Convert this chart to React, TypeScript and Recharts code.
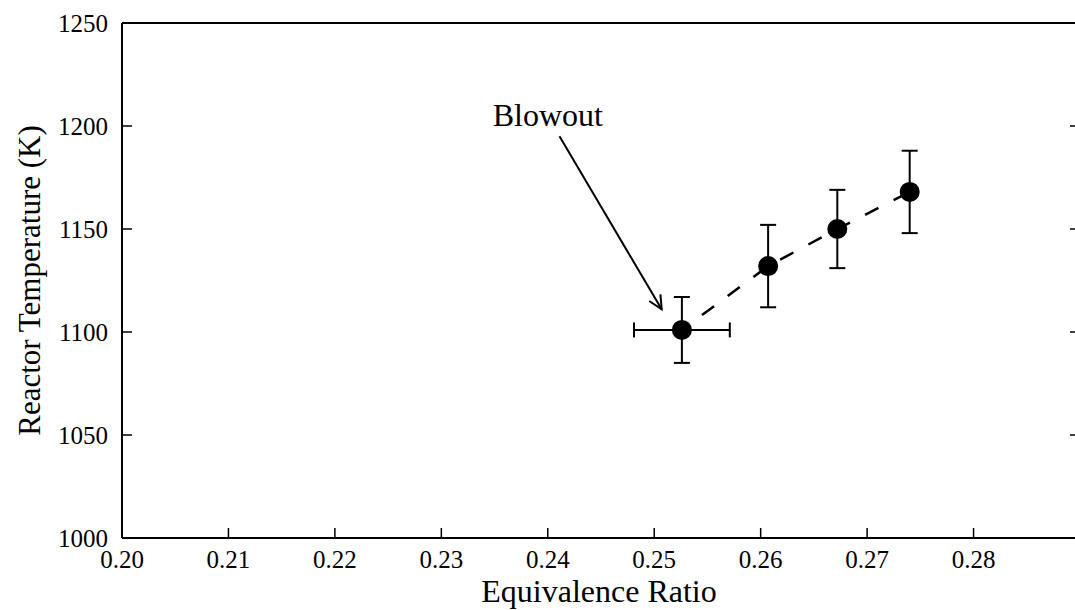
import { ScatterChart, Scatter, XAxis, YAxis, ErrorBar, ReferenceLine, ReferenceDot } from 'recharts';

// equivalence ratio vs reactor temperature
const phi = [0.2526, 0.2607, 0.2672, 0.274];
const temperature = [1101, 1132, 1150, 1168];
const tempErr = [16, 20, 19, 20];
const phiErr = [0.0045, 0, 0, 0];

const xTicks = [0.2, 0.21, 0.22, 0.23, 0.24, 0.25, 0.26, 0.27, 0.28];
const yTicks = [1000, 1050, 1100, 1150, 1200, 1250];

const blowoutText = { x: 0.24, y: 1205 };
const arrowFrom = { x: 0.2411, y: 1195 };
const arrowTo = { x: 0.2507, y: 1111 };

const points = phi.map((x, i) => ({ x, y: temperature[i], ey: tempErr[i], ex: phiErr[i] }));

const FONT = 'Liberation Serif, Times New Roman, serif';
const tickStyle = { fill: '#000', fontSize: 25, fontFamily: FONT };

const Dot = (props: any) => <circle cx={props.cx} cy={props.cy} r={10} fill="#000" />;

const Arrow = (props: any) => {
  const { x1, y1, x2, y2 } = props;
  const a = Math.atan2(y2 - y1, x2 - x1);
  const len = 15;
  const spread = 0.45;
  const p1 = [x2 - len * Math.cos(a - spread), y2 - len * Math.sin(a - spread)];
  const p2 = [x2 - len * Math.cos(a + spread), y2 - len * Math.sin(a + spread)];
  return (
    <g>
      <line x1={x1} y1={y1} x2={x2} y2={y2} stroke="#000" strokeWidth={2} />
      <polyline points={`${p1[0]},${p1[1]} ${x2},${y2} ${p2[0]},${p2[1]}`} fill="none" stroke="#000" strokeWidth={2} />
    </g>
  );
};

const YTitle = (props: any) => {
  const vb = props.viewBox;
  const cy = vb.y + vb.height / 2;
  return (
    <text x={40} y={cy} transform={`rotate(-90, 40, ${cy})`} textAnchor="middle" fontSize={31} fontFamily={FONT} fill="#000">
      Reactor Temperature (K)
    </text>
  );
};

const XTitle = (props: any) => {
  const vb = props.viewBox;
  return (
    <text x={vb.x + vb.width / 2 - 2} y={602} textAnchor="middle" fontSize={32} fontFamily={FONT} fill="#000">
      Equivalence Ratio
    </text>
  );
};

const BlowoutLabel = (props: any) => {
  const vb = props.viewBox;
  return (
    <text x={vb.x} y={vb.y + 10} textAnchor="middle" fontSize={32} fontFamily={FONT} fill="#000">
      Blowout
    </text>
  );
};

export default function App() {
  return (
    <div style={{ position: 'absolute', left: 0, top: 0, width: 1075, height: 610, overflow: 'hidden', background: '#fff', fontFamily: FONT }}>
      <ScatterChart width={1090} height={610} margin={{ top: 0, right: 0, bottom: 0, left: 0 }}>
        <XAxis
          dataKey="x"
          type="number"
          domain={[0.2, 0.29]}
          ticks={xTicks}
          allowDataOverflow
          height={72}
          tickSize={-10}
          tickMargin={22}
          tick={tickStyle}
          tickFormatter={(v: number) => v.toFixed(2)}
          axisLine={{ stroke: '#000', strokeWidth: 2 }}
          tickLine={{ stroke: '#000', strokeWidth: 1.5 }}
          label={{ content: XTitle }}
        />
        <XAxis
          xAxisId="top"
          orientation="top"
          type="number"
          domain={[0.2, 0.29]}
          ticks={xTicks}
          allowDataOverflow
          height={23}
          tickSize={-10}
          tickFormatter={() => ''}
          axisLine={{ stroke: '#000', strokeWidth: 2 }}
          tickLine={{ stroke: '#000', strokeWidth: 1.5 }}
        />
        <YAxis
          dataKey="y"
          type="number"
          domain={[1000, 1250]}
          ticks={yTicks}
          allowDataOverflow
          width={122}
          tickSize={-10}
          tickMargin={24}
          tick={tickStyle}
          axisLine={{ stroke: '#000', strokeWidth: 2 }}
          tickLine={{ stroke: '#000', strokeWidth: 1.5 }}
          label={{ content: YTitle }}
        />
        <YAxis
          yAxisId="right"
          orientation="right"
          type="number"
          domain={[1000, 1250]}
          ticks={yTicks}
          allowDataOverflow
          width={10}
          tickSize={-10}
          tickFormatter={() => ''}
          axisLine={{ stroke: '#000', strokeWidth: 2 }}
          tickLine={{ stroke: '#000', strokeWidth: 1.5 }}
        />
        <Scatter
          data={points}
          isAnimationActive={false}
          shape={() => <g />}
          line={{ stroke: '#000', strokeWidth: 2.5, strokeDasharray: '15 17', strokeDashoffset: 7 }}
          lineType="joint"
        />
        <Scatter data={points} isAnimationActive={false} shape={Dot}>
          <ErrorBar dataKey="ey" direction="y" width={8} stroke="#000" strokeWidth={2} isAnimationActive={false} />
          <ErrorBar dataKey="ex" direction="x" width={7.5} stroke="#000" strokeWidth={2} isAnimationActive={false} />
        </Scatter>
        <ReferenceLine segment={[arrowFrom, arrowTo]} shape={Arrow} />
        <ReferenceDot x={blowoutText.x} y={blowoutText.y} r={0} fill="none" stroke="none" label={{ content: BlowoutLabel }} />
      </ScatterChart>
    </div>
  );
}
